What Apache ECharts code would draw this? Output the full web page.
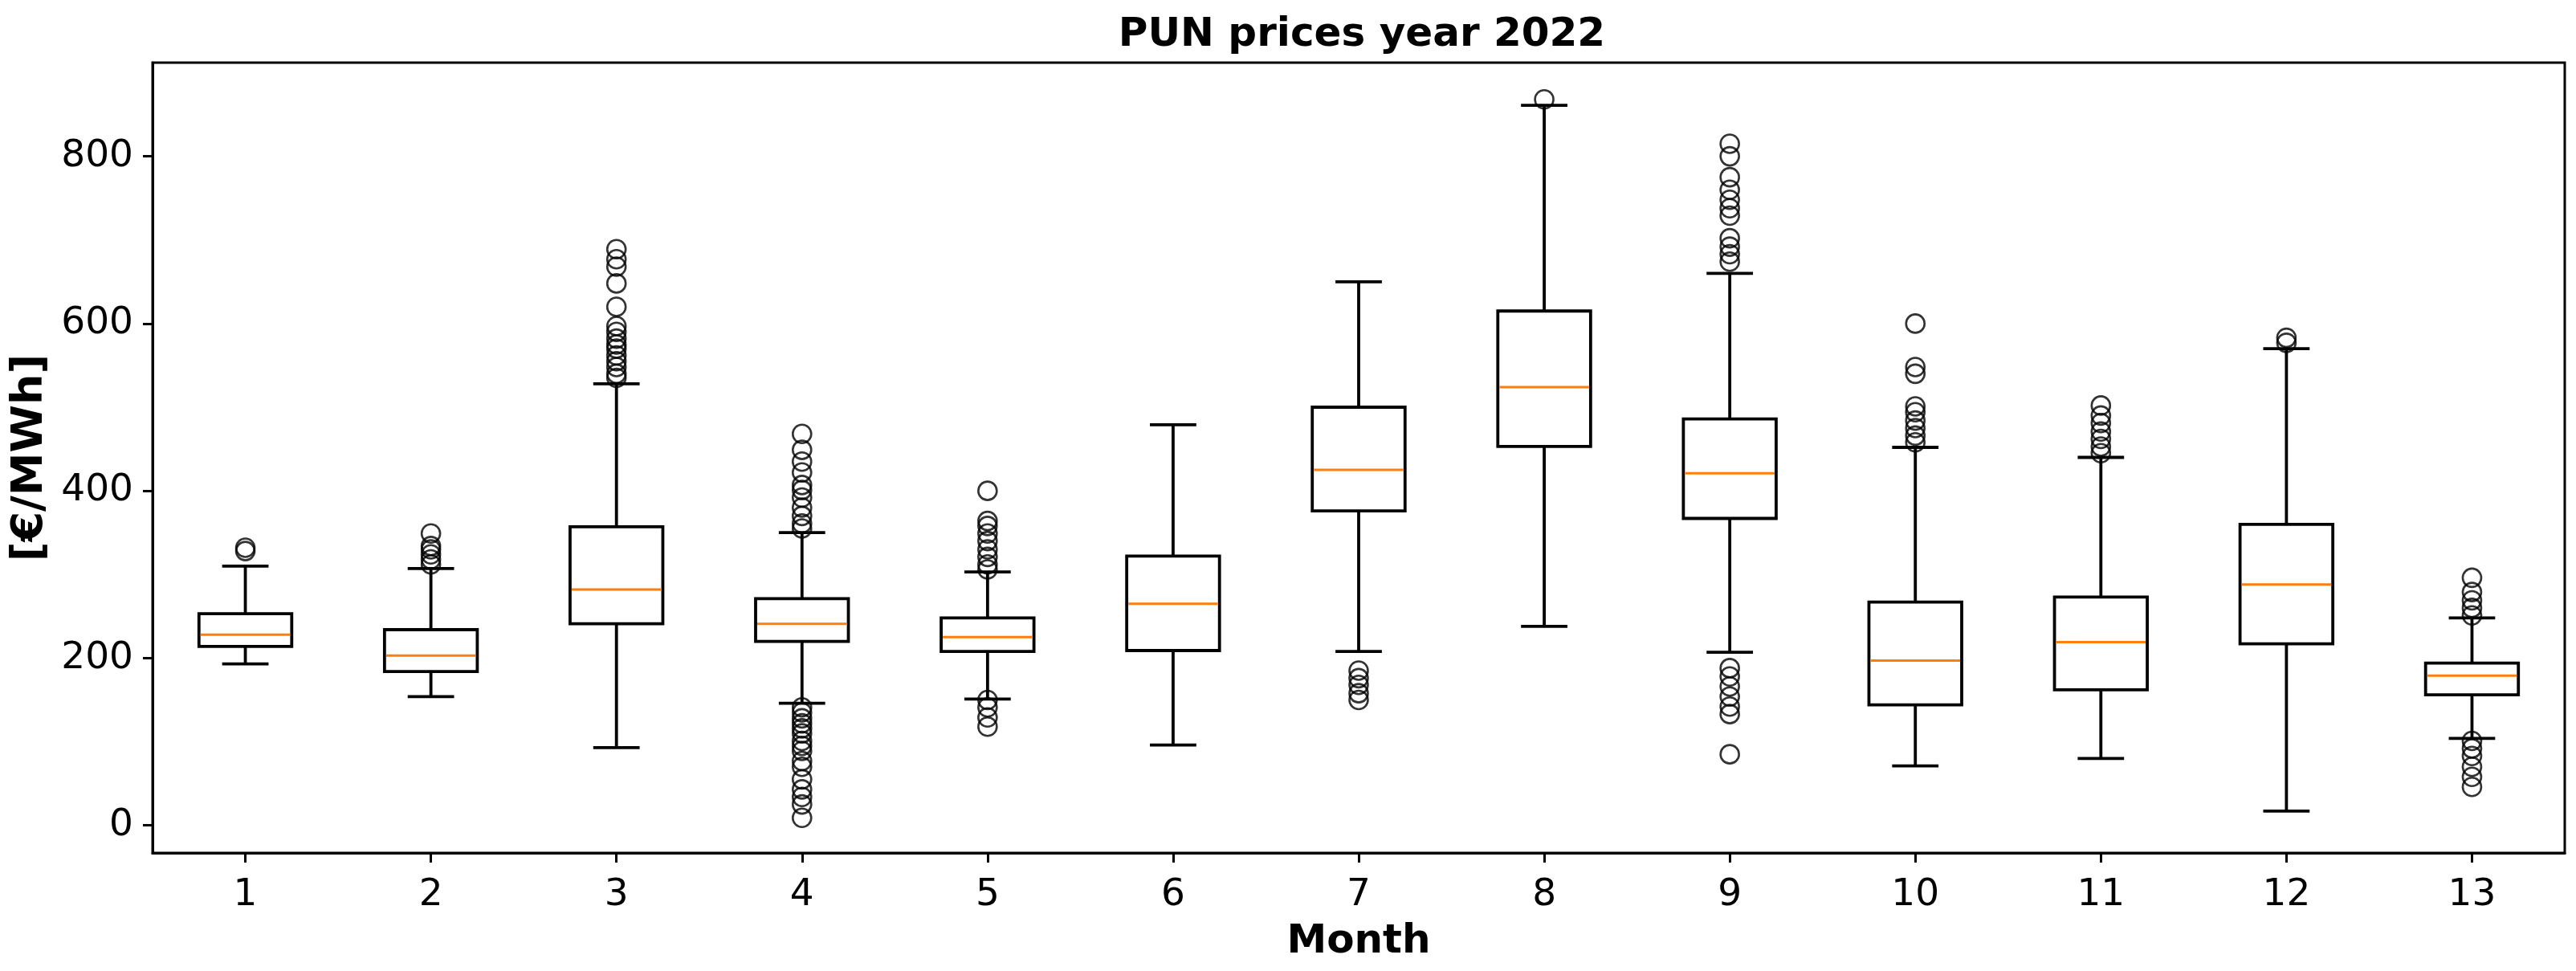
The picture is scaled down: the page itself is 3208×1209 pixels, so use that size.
<!DOCTYPE html>
<html>
<head>
<meta charset="utf-8">
<script src="https://cdn.jsdelivr.net/npm/echarts@6/dist/echarts.min.js"></script>
<style>
html,body{margin:0;padding:0;background:#fff;}
#chart{width:3208px;height:1209px;}
</style>
</head>
<body>
<div id="chart"></div>
<script>
// ---- data ----
const months = ['1','2','3','4','5','6','7','8','9','10','11','12','13'];
const whiskerLow  = [193, 154,  93, 146, 151,  96, 208, 238, 207,  71,  80,  17, 104];
const q1Values    = [214, 184, 241, 220, 208, 209, 376, 453, 367, 144, 162, 217, 156];
const medianValues= [228, 203, 282, 241, 225, 265, 425, 524, 421, 197, 219, 288, 179];
const q3Values    = [253, 234, 357, 271, 248, 322, 500, 615, 486, 267, 273, 360, 194];
const whiskerHigh = [310, 307, 528, 350, 303, 479, 650, 861, 660, 452, 440, 570, 248];
const outliers = [
  [328, 332],
  [312, 318, 324, 330, 334, 349],
  [535, 540, 548, 555, 562, 570, 575, 582, 590, 597, 620, 648, 668, 677, 689],
  [355, 361, 370, 380, 392, 401, 407, 422, 435, 449, 468, 141, 135, 128, 122, 116, 110, 101, 95, 89, 77, 70, 55, 43, 34, 25, 9],
  [306, 312, 321, 330, 340, 349, 358, 364, 400, 150, 141, 129, 118],
  [],
  [185, 176, 168, 158, 150],
  [868],
  [674, 683, 692, 702, 729, 738, 748, 760, 775, 800, 815, 188, 178, 166, 154, 142, 133, 85],
  [458, 466, 475, 484, 494, 501, 540, 548, 600],
  [445, 453, 462, 471, 481, 490, 502],
  [577, 583],
  [251, 260, 269, 279, 296, 101, 92, 83, 70, 58, 46]
];
const yTicks = [0, 200, 400, 600, 800];
const yMin = -33, yMax = 912;

// ---- build series data ----
const boxData = months.map((m, i) => [i, whiskerLow[i], q1Values[i], medianValues[i], q3Values[i], whiskerHigh[i]]);
const flierData = [];
outliers.forEach((arr, i) => arr.forEach(v => flierData.push([i, v])));

const FONT = 'DejaVu Sans';
const chart = echarts.init(document.getElementById('chart'), null, {renderer: 'canvas'});

chart.setOption({
  animation: false,
  backgroundColor: '#fff',
  title: {
    text: 'PUN prices year 2022',
    left: 1691,
    textAlign: 'center',
    top: 14,
    textStyle: {fontFamily: FONT, fontWeight: 'bold', fontSize: 50, color: '#000'}
  },
  grid: {
    left: 190, right: 14, top: 78, bottom: 147,
    show: true, borderColor: '#000', borderWidth: 3, backgroundColor: 'transparent'
  },
  xAxis: {
    type: 'category',
    data: months,
    boundaryGap: true,
    name: 'Month',
    nameLocation: 'middle',
    nameGap: 86,
    nameTextStyle: {fontFamily: FONT, fontWeight: 'bold', fontSize: 50, color: '#000'},
    axisLine: {show: true, onZero: false, lineStyle: {color: '#000', width: 3}},
    axisTick: {show: true, alignWithLabel: true, length: 12, lineStyle: {color: '#000', width: 3}},
    axisLabel: {fontFamily: FONT, fontSize: 47, color: '#000', margin: 29},
    splitLine: {show: false}
  },
  yAxis: {
    type: 'value',
    min: yMin, max: yMax,
    name: '[€/MWh]',
    nameLocation: 'middle',
    nameGap: 108,
    nameTextStyle: {fontFamily: FONT, fontWeight: 'bold', fontSize: 54, color: '#000'},
    axisLine: {show: true, lineStyle: {color: '#000', width: 3}},
    axisTick: {show: true, length: 12, customValues: yTicks, lineStyle: {color: '#000', width: 3}},
    axisLabel: {fontFamily: FONT, fontSize: 47, color: '#000', margin: 24, customValues: yTicks},
    splitLine: {show: false}
  },
  series: [
    {
      type: 'custom',
      name: 'box',
      data: boxData,
      encode: {x: 0, y: [1, 2, 3, 4, 5]},
      renderItem: function (params, api) {
        const xi = api.value(0);
        const lo = api.coord([xi, api.value(1)]);
        const a = api.coord([xi, api.value(2)]);
        const md = api.coord([xi, api.value(3)]);
        const b = api.coord([xi, api.value(4)]);
        const hi = api.coord([xi, api.value(5)]);
        const band = api.size([1, 0])[0];
        const bw = band * 0.5;
        const cw = band * 0.25;
        const cx = lo[0];
        const black = {stroke: '#000', lineWidth: 3.8, fill: null};
        return {
          type: 'group',
          children: [
            {type: 'line', shape: {x1: cx, y1: a[1], x2: cx, y2: lo[1]}, style: black},
            {type: 'line', shape: {x1: cx - cw / 2, y1: lo[1], x2: cx + cw / 2, y2: lo[1]}, style: black},
            {type: 'line', shape: {x1: cx, y1: b[1], x2: cx, y2: hi[1]}, style: black},
            {type: 'line', shape: {x1: cx - cw / 2, y1: hi[1], x2: cx + cw / 2, y2: hi[1]}, style: black},
            {type: 'rect', shape: {x: cx - bw / 2, y: b[1], width: bw, height: a[1] - b[1]},
              style: {stroke: '#000', lineWidth: 3.8, fill: 'rgba(0,0,0,0)'}},
            {type: 'line', shape: {x1: cx - bw / 2 + 2, y1: md[1], x2: cx + bw / 2 - 2, y2: md[1]},
              style: {stroke: '#ff7f0e', lineWidth: 3}}
          ]
        };
      },
      z: 2
    },
    {
      type: 'scatter',
      name: 'fliers',
      data: flierData,
      symbol: 'circle',
      symbolSize: 23,
      itemStyle: {color: 'rgba(0,0,0,0)', borderColor: '#000', borderWidth: 2.6},
      z: 3
    }
  ]
});
</script>
</body>
</html>
